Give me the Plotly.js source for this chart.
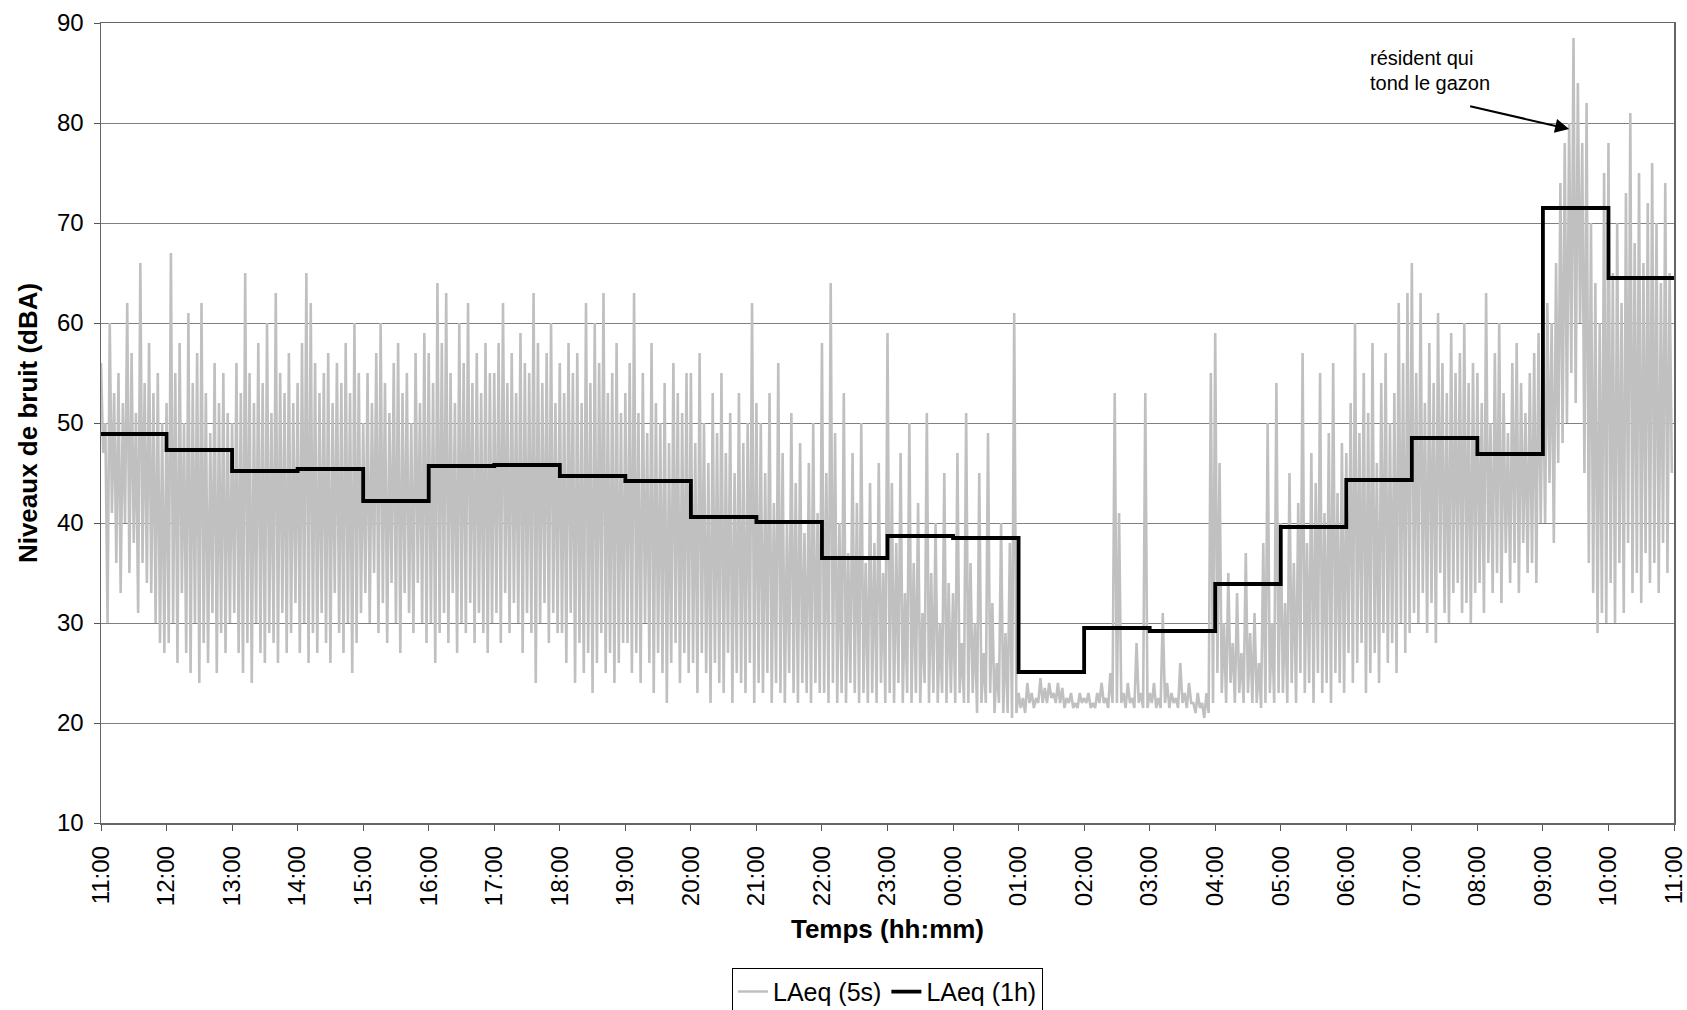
<!DOCTYPE html>
<html><head><meta charset="utf-8">
<script src="https://cdn.plot.ly/plotly-3.0.1.min.js"></script>
<style>html,body{margin:0;padding:0;background:#fff}</style>
</head><body><div id="chart" style="width:1687px;height:1010px"></div>
<script>
// Tick labels (one per hour, 11:00 to 11:00 next day)
const hourLabels = ["11:00","12:00","13:00","14:00","15:00","16:00","17:00","18:00","19:00","20:00","21:00","22:00","23:00","00:00","01:00","02:00","03:00","04:00","05:00","06:00","07:00","08:00","09:00","10:00","11:00"];

// LAeq (1h), one value per hour starting 11:00
const laeq1h = [48.9,47.3,45.2,45.4,42.2,45.7,45.8,44.7,44.2,40.6,40.1,36.5,38.7,38.5,25.1,29.5,29.2,33.9,39.6,44.3,48.5,46.9,71.5,64.5];

const sampleMinutes = 2;
const laeq5s = [
 // 11:00
 56,47,50,30,60,41,53,36,55,33,52,40,62,35,57,38,51,31,66,36,54,34,58,33,53,30,55,28,50,27,
 // 12:00
 52,28,67,30,55,26,58,33,50,27,61,25,54,30,57,24,62,28,53,26,49,31,56,25,52,29,55,27,51,30,
 // 13:00
 50,31,56,27,53,25,65,28,55,24,52,30,58,27,54,26,60,29,51,28,63,26,55,31,53,27,57,29,52,32,
 // 14:00
 54,27,58,30,65,26,62,29,56,27,53,31,55,28,57,26,52,33,56,29,54,27,58,30,53,25,60,28,55,31,
 // 15:00
 50,33,55,30,52,35,57,29,60,32,54,28,51,34,56,30,58,27,53,33,55,31,50,29,57,34,52,30,59,28,
 // 16:00
 57,30,54,26,64,29,58,31,63,28,55,33,52,27,60,30,56,29,62,32,54,28,57,31,53,29,58,27,55,30,
 // 17:00
 55,31,58,28,62,33,54,29,57,32,53,30,59,27,56,31,55,29,63,24,58,30,54,32,57,28,60,31,52,29,
 // 18:00
 56,29,53,26,58,31,55,24,57,28,52,25,62,27,54,23,60,26,56,29,63,25,53,27,55,24,58,26,51,28,
 // 19:00
 53,28,56,25,63,27,51,24,55,30,49,26,58,23,52,27,50,25,54,22,48,26,56,28,53,24,51,27,55,25,
 // 20:00
 55,26,48,23,57,27,50,25,46,22,53,26,49,24,55,23,47,27,51,22,45,25,53,24,48,23,50,26,62,22,
 // 21:00
 52,24,50,23,45,25,53,22,42,24,56,23,47,22,40,25,51,23,44,22,48,24,39,23,46,22,50,24,41,23,
 // 22:00
 58,23,45,22,64,24,49,22,40,23,53,22,37,24,47,23,42,22,50,23,36,22,44,23,38,22,46,24,35,22,
 // 23:00
 59,23,44,22,38,24,47,22,33,23,50,22,36,23,42,22,31,24,51,22,35,23,40,22,30,23,45,22,34,23,
 // 00:00
 33,22,47,23,28,22,51,22,36,23,30,21,45,22,27,22,49,23,32,21,26,22,40,21,29,21,38,20.5,61,21,
 // 01:00
 23,21.5,22.5,21,24,22,23,21.5,22.5,22,24.5,22,23.5,22,24,22.5,23,22,24,22,23.5,21.5,22.5,22,23,21.5,22,21.5,23,22,
 // 02:00
 22.5,22,23,21.5,22,21.5,23,22,24,22,22.5,21.5,25,22,53,22,41,22,23,21.5,24,22,22.5,21.5,28,22,23,21.5,53,21.5,
 // 03:00
 23,22,24,21.5,22.5,21.5,31,22,24,21.5,23,22,22.5,21.5,26,22,23,21.5,24,22,22,21,23,21.5,22,20.5,23,21,55,22,
 // 04:00
 59,25,46,23,30,22,35,24,28,22,33,23,27,22,37,23,29,22,31,22,26,21.5,38,22,50,23,30,22,54,23,
 // 05:00
 40,23,32,22,45,24,36,22,42,25,57,23,38,24,47,22,44,25,55,23,41,24,49,22,56,25,43,24,48,23,
 // 06:00
 47,27,52,24,60,26,49,28,55,23,51,25,58,27,46,24,54,29,57,26,50,28,53,25,62,30,56,27,63,29,
 // 07:00
 66,31,55,30,63,33,52,29,58,32,54,28,61,35,56,31,53,30,59,33,55,34,57,31,60,32,54,30,56,33,
 // 08:00
 55,34,52,31,63,36,50,33,57,35,60,32,53,37,49,34,56,36,58,33,54,38,51,35,55,36,57,34,59,40,
 // 09:00
 58,40,62,44,60,38,66,46,74,48,78,50,80,55,88.5,52,84,60,78,45,82,36,70,33,64,29,60,31,75,30,
 // 10:00
 78,34,65,30,70,36,62,31,73,38,81,33,68,35,75,32,66,37,72,34,76,36,70,33,64,38,74,35,65,45
];

const yTicks = [10,20,30,40,50,60,70,80,90];

const x5s = laeq5s.map((_, i) => i * sampleMinutes);
const x1h = hourLabels.map((_, i) => i * 60);
const y1h = laeq1h.concat([laeq1h[laeq1h.length - 1]]);

const FONT = "Liberation Sans, Arial, sans-serif";

const traces = [
  {x: x5s, y: laeq5s, type: 'scatter', mode: 'lines', name: 'LAeq (5s)',
   line: {color: '#c0c0c0', width: 2.6}},
  {x: x1h, y: y1h, type: 'scatter', mode: 'lines', name: 'LAeq (1h)',
   line: {color: '#000000', width: 3.8, shape: 'hv'}}
];

const layout = {
  width: 1687, height: 1010,
  margin: {l: 101, r: 13, t: 23, b: 187, autoexpand: false},
  paper_bgcolor: '#ffffff', plot_bgcolor: '#ffffff',
  font: {family: FONT, size: 24, color: '#000'},
  showlegend: true,
  legend: {orientation: 'h', x: 0.5, xanchor: 'center', y: -0.181, yanchor: 'top',
           bordercolor: '#000', borderwidth: 1, bgcolor: '#fff',
           font: {family: FONT, size: 25, color: '#000'}},
  xaxis: {
    range: [0, 1440], tickmode: 'array', tickvals: x1h, ticktext: hourLabels,
    tickangle: -90, ticks: 'outside', ticklen: 6, tickcolor: '#555', ticklabelstandoff: 6,
    showgrid: false, zeroline: false,
    showline: true, linecolor: '#666', linewidth: 1.5, mirror: true,
    tickfont: {family: FONT, size: 24, color: '#000'},
    title: {text: '<b>Temps (hh:mm)</b>', font: {family: FONT, size: 26, color: '#000'}, standoff: 14}
  },
  yaxis: {
    range: [10, 90], tickmode: 'array', tickvals: yTicks,
    ticks: 'outside', ticklen: 6, tickcolor: '#555', ticklabelstandoff: 5,
    showgrid: true, gridcolor: '#808080', gridwidth: 1, zeroline: false,
    showline: true, linecolor: '#666', linewidth: 1.5, mirror: true,
    tickfont: {family: FONT, size: 24, color: '#000'},
    title: {text: '<b>Niveaux de bruit (dBA)</b>', font: {family: FONT, size: 26, color: '#000'}, standoff: 12}
  },
  annotations: [
    {x: 1160, y: 86.5, xref: 'x', yref: 'y', text: 'résident qui',
     showarrow: false, xanchor: 'left', yanchor: 'middle', align: 'left',
     font: {family: FONT, size: 20, color: '#000'}},
    {x: 1160, y: 84.0, xref: 'x', yref: 'y', text: 'tond le gazon',
     showarrow: false, xanchor: 'left', yanchor: 'middle', align: 'left',
     font: {family: FONT, size: 20, color: '#000'}},
    {x: 1344, y: 79.4, ax: 1252, ay: 81.7, xref: 'x', yref: 'y', axref: 'x', ayref: 'y',
     text: '', showarrow: true, arrowhead: 2, arrowsize: 1.4, arrowwidth: 2, arrowcolor: '#000'}
  ]
};

Plotly.newPlot('chart', traces, layout, {displayModeBar: false, staticPlot: true});
</script>
</body></html>
